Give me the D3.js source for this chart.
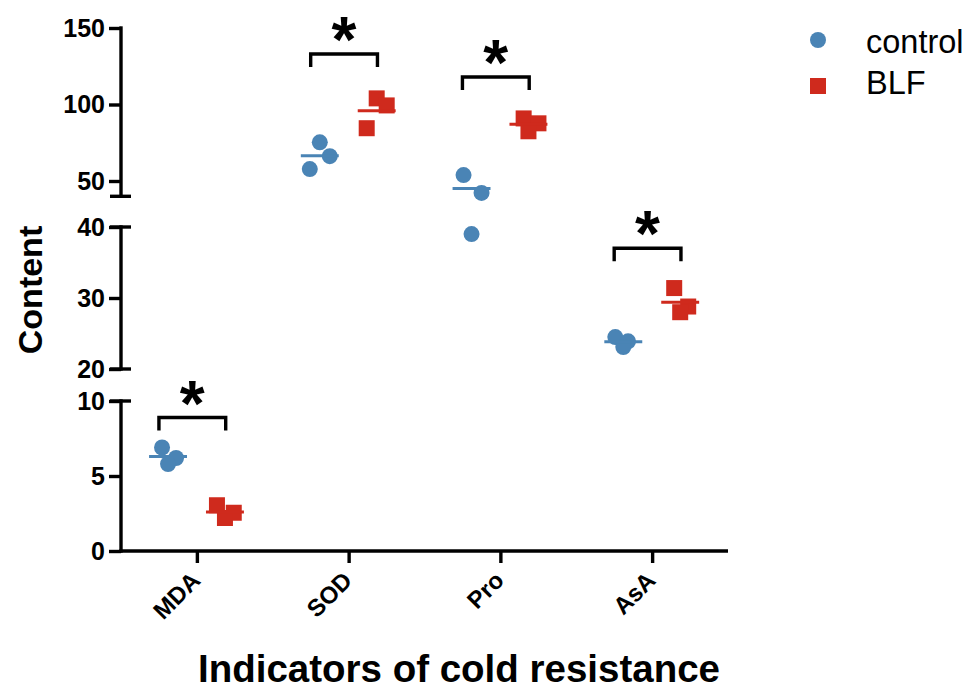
<!DOCTYPE html>
<html>
<head>
<meta charset="utf-8">
<script src="https://cdn.jsdelivr.net/npm/d3@7"></script>
<style>
  body { margin: 0; background: #fff; }
  svg { display: block; }
  text { font-family: "Liberation Sans", Arial, Helvetica, sans-serif; }
</style>
</head>
<body>
<svg id="chart" width="974" height="691"></svg>
<script>
// ---------- data ----------
const categories = ["MDA", "SOD", "Pro", "AsA"];
const seriesNames = ["control", "BLF"];
const controlValues = [[6.9, 6.2, 5.8], [75.3, 66.2, 57.8], [53.9, 42.2, 39.0], [24.5, 23.9, 23.1]];
const blfValues = [[3.05, 2.55, 2.2], [104, 99.4, 84.5], [90.9, 87.7, 82.5], [31.4, 28.8, 28.0]];
// horizontal scatter of overlapping points (in symbol radii)
const controlJitter = [[-0.75, 1, 0], [0, 1.25, -1.25], [-1, 1.25, 0], [-1, 0.6, 0]];
const blfJitter = [[-1, 1.1, 0], [0, 1.25, -1.25], [-0.6, 1.25, 0], [-0.75, 1, 0]];
// significance brackets: height (data value) per category
const bracketValues = [8.9, 133, 118, 37];
const sigLabels = ["*", "*", "*", "*"];
// broken y axis segments
const segDomains = [[0, 10], [20, 40], [40, 150]];
const segTicks = [[0, 5, 10], [20, 30, 40], [50, 100, 150]];
const xTitle = "Indicators of cold resistance";
const yTitle = "Content";

// ---------- layout ----------
const colors = { control: "#4a84b5", BLF: "#cf2a1d" };
const svg = d3.select("#chart");
const axisX = 121, xRight = 728, xAxisY = 551, lw = 3.4;
const segRanges = [[551, 401], [369, 227], [196.3, 28]];
const yScales = segDomains.map((d, i) => d3.scaleLinear().domain(d).range(segRanges[i]));
function segIndex(v) { if (v <= 10) return 0; if (v <= 40) return 1; return 2; }
function yOf(v) { return yScales[segIndex(v)](v); }

const x = d3.scalePoint().domain(categories).range([axisX, xRight]).padding(0.5);
const step = x.step();
const groupOffset = { control: -0.19 * step, BLF: 0.185 * step };
const r = 8, sq = 16, jitterUnit = 8;

// ---------- y axis segments ----------
yScales.forEach((s, i) => {
  const g = svg.append("g").attr("transform", `translate(${axisX},0)`);
  g.call(d3.axisLeft(s).tickValues(segTicks[i]).tickSize(12).tickPadding(4))
    .call(a => a.select(".domain").remove());
  g.selectAll(".tick line").attr("stroke", "#000").attr("stroke-width", lw);
  g.selectAll(".tick text").attr("fill", "#000").attr("font-size", 25).attr("font-weight", "bold")
    .attr("font-family", "Liberation Sans, Arial, sans-serif");
  const [y0, y1] = s.range();
  g.append("line").attr("x1", 0).attr("x2", 0).attr("y1", y0 + lw / 2).attr("y2", y1 - lw / 2)
    .attr("stroke", "#000").attr("stroke-width", lw);
  // break caps
  const caps = [];
  if (i === 0) caps.push(y1);
  if (i === 1) caps.push(y0, y1);
  if (i === 2) caps.push(y0);
  caps.forEach(cy => g.append("line").attr("x1", -11).attr("x2", 10).attr("y1", cy).attr("y2", cy)
    .attr("stroke", "#000").attr("stroke-width", lw));
});

// ---------- x axis ----------
const gx = svg.append("g").attr("transform", `translate(0,${xAxisY})`);
gx.call(d3.axisBottom(x).tickSize(12).tickFormat(() => ""))
  .call(a => a.select(".domain").remove());
gx.selectAll(".tick line").attr("stroke", "#000").attr("stroke-width", lw);
gx.append("line").attr("x1", axisX - lw / 2).attr("x2", xRight).attr("y1", 0).attr("y2", 0)
  .attr("stroke", "#000").attr("stroke-width", lw);
svg.append("g").selectAll("text").data(categories).join("text")
  .attr("transform", d => `translate(${x(d) + 5},${xAxisY + 31}) rotate(-45)`)
  .attr("text-anchor", "end")
  .attr("font-size", 24).attr("font-weight", "bold").attr("fill", "#000")
  .text(d => d);

// ---------- points ----------
function buildPoints(values, jitter, name) {
  const pts = [];
  values.forEach((arr, ci) => arr.forEach((v, k) => pts.push({
    cat: categories[ci], v, j: jitter[ci][k], name
  })));
  return pts;
}
const ctrlPts = buildPoints(controlValues, controlJitter, "control");
const blfPts = buildPoints(blfValues, blfJitter, "BLF");

svg.append("g").selectAll("circle").data(ctrlPts).join("circle")
  .attr("cx", d => x(d.cat) + groupOffset.control + d.j * jitterUnit)
  .attr("cy", d => yOf(d.v)).attr("r", r).attr("fill", colors.control);
svg.append("g").selectAll("rect").data(blfPts).join("rect")
  .attr("x", d => x(d.cat) + groupOffset.BLF + d.j * jitterUnit - sq / 2)
  .attr("y", d => yOf(d.v) - sq / 2).attr("width", sq).attr("height", sq).attr("fill", colors.BLF);

// mean lines
const means = [];
categories.forEach((c, i) => {
  means.push({ cat: c, name: "control", m: d3.mean(controlValues[i]) });
  means.push({ cat: c, name: "BLF", m: d3.mean(blfValues[i]) });
});
const mw = 0.25 * step;
svg.append("g").selectAll("line").data(means).join("line")
  .attr("x1", d => x(d.cat) + groupOffset[d.name] - mw / 2)
  .attr("x2", d => x(d.cat) + groupOffset[d.name] + mw / 2)
  .attr("y1", d => yOf(d.m)).attr("y2", d => yOf(d.m))
  .attr("stroke", d => colors[d.name]).attr("stroke-width", 3);

// ---------- significance brackets ----------
const bL = -0.25 * step, bR = 0.19 * step, leg = 13;
const gb = svg.append("g");
categories.forEach((c, i) => {
  const by = yOf(bracketValues[i]);
  const x0 = x(c) + bL, x1 = x(c) + bR;
  gb.append("path")
    .attr("d", `M${x0},${by + leg}V${by}H${x1}V${by + leg}`)
    .attr("fill", "none").attr("stroke", "#000").attr("stroke-width", lw);
  gb.append("text").attr("x", (x0 + x1) / 2).attr("y", by + 8)
    .attr("text-anchor", "middle").attr("font-size", 64).attr("font-weight", "bold")
    .attr("fill", "#000").text(sigLabels[i]);
});

// ---------- titles ----------
svg.append("text").attr("x", 459).attr("y", 682).attr("text-anchor", "middle")
  .attr("font-size", 38.5).attr("font-weight", "bold").attr("fill", "#000").text(xTitle);
svg.append("text").attr("transform", "translate(42,290) rotate(-90)").attr("text-anchor", "middle")
  .attr("font-size", 34).attr("font-weight", "bold").attr("fill", "#000").text(yTitle);

// ---------- legend ----------
const lg = svg.append("g");
lg.append("circle").attr("cx", 818).attr("cy", 40).attr("r", 8).attr("fill", colors.control);
lg.append("rect").attr("x", 810).attr("y", 78).attr("width", 16).attr("height", 16).attr("fill", colors.BLF);
lg.selectAll("text").data(seriesNames).join("text")
  .attr("x", 866).attr("y", (d, i) => 53 + i * 41)
  .attr("font-size", 32.5).attr("fill", "#000").text(d => d);
</script>
</body>
</html>
